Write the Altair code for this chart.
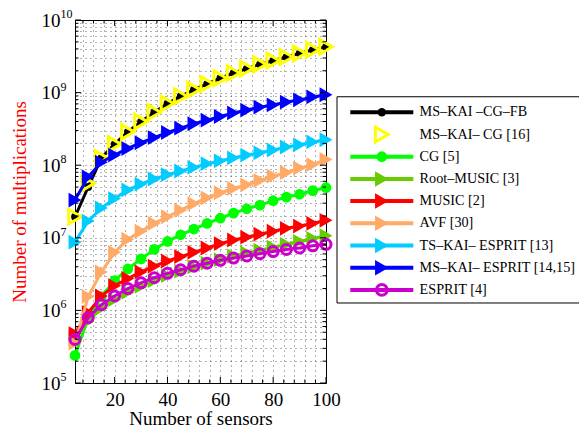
import altair as alt
import pandas as pd

# ---------------- data ----------------
sensors = [5, 10, 15, 20, 25, 30, 35, 40, 45, 50, 55, 60, 65, 70, 75, 80, 85, 90, 95, 100]

ms_kai_cg_fb = [1.95e7, 5.01e7, 1.26e8, 1.95e8, 2.88e8, 3.98e8, 5.37e8, 7.08e8, 8.91e8, 1.10e9,
                1.32e9, 1.58e9, 1.86e9, 2.14e9, 2.45e9, 2.75e9, 3.09e9, 3.47e9, 3.89e9, 4.27e9]
ms_kai_cg = [1.95e7, 5.62e7, 1.26e8, 1.95e8, 2.88e8, 3.98e8, 5.37e8, 7.08e8, 8.91e8, 1.10e9,
             1.32e9, 1.58e9, 1.86e9, 2.14e9, 2.45e9, 2.75e9, 3.09e9, 3.47e9, 3.89e9, 4.27e9]
cg = [2.40e5, 7.94e5, 1.55e6, 2.57e6, 3.72e6, 5.13e6, 6.92e6, 8.91e6, 1.10e7, 1.32e7,
      1.58e7, 1.86e7, 2.19e7, 2.51e7, 2.82e7, 3.24e7, 3.63e7, 3.98e7, 4.47e7, 4.90e7]
root_music = [3.98e5, 7.08e5, 1.07e6, 1.41e6, 1.78e6, 2.14e6, 2.57e6, 3.02e6, 3.47e6, 3.98e6,
              4.47e6, 5.01e6, 5.62e6, 6.17e6, 6.76e6, 7.41e6, 8.13e6, 8.91e6, 9.77e6, 1.07e7]
music = [4.79e5, 9.33e5, 1.58e6, 2.19e6, 2.75e6, 3.39e6, 4.07e6, 4.79e6, 5.50e6, 6.31e6,
         7.24e6, 8.32e6, 9.33e6, 1.02e7, 1.12e7, 1.23e7, 1.35e7, 1.45e7, 1.58e7, 1.74e7]
avf = [3.55e5, 1.55e6, 3.39e6, 6.31e6, 9.55e6, 1.23e7, 1.58e7, 1.95e7, 2.40e7, 2.95e7,
       3.55e7, 4.17e7, 4.79e7, 5.37e7, 6.17e7, 7.08e7, 7.94e7, 9.12e7, 1.02e8, 1.20e8]
ts_kai_esprit = [8.71e6, 1.70e7, 2.57e7, 3.47e7, 4.57e7, 5.50e7, 6.46e7, 7.41e7, 8.32e7, 9.33e7,
                 1.05e8, 1.15e8, 1.26e8, 1.38e8, 1.48e8, 1.62e8, 1.78e8, 1.91e8, 2.09e8, 2.24e8]
ms_kai_esprit = [3.31e7, 6.92e7, 1.10e8, 1.38e8, 1.70e8, 2.04e8, 2.40e8, 2.82e8, 3.24e8, 3.72e8,
                 4.17e8, 4.68e8, 5.25e8, 5.75e8, 6.31e8, 6.76e8, 7.41e8, 7.94e8, 8.71e8, 9.33e8]
esprit = [3.98e5, 7.94e5, 1.20e6, 1.58e6, 2.00e6, 2.40e6, 2.82e6, 3.24e6, 3.63e6, 4.07e6,
          4.47e6, 4.90e6, 5.25e6, 5.62e6, 6.03e6, 6.46e6, 6.92e6, 7.24e6, 7.76e6, 8.13e6]

labels = ["MS\u2013KAI \u2013CG\u2013FB", "MS\u2013KAI\u2013 CG [16]", "CG [5]",
          "Root\u2013MUSIC [3]", "MUSIC [2]", "AVF [30]", "TS\u2013KAI\u2013 ESPRIT [13]",
          "MS\u2013KAI\u2013 ESPRIT [14,15]", "ESPRIT [4]"]
series_values = [ms_kai_cg_fb, ms_kai_cg, cg, root_music, music, avf,
                 ts_kai_esprit, ms_kai_esprit, esprit]

x_ticks = [8, 12, 16, 20, 24, 28, 32, 36, 40, 44, 48, 52, 56, 60, 64, 68, 72, 76, 80, 84, 88, 92, 96, 100]
x_major = [20, 40, 60, 80, 100]
decades = [1e5, 1e6, 1e7, 1e8, 1e9, 1e10]
decade_exp = ["5", "6", "7", "8", "9", "10"]
y_ticks = [k * 10 ** e for e in range(5, 10) for k in range(1, 10)] + [10 ** 10]

# ---------------- styles ----------------
colors = ["#000000", "#FFFF00", "#00FF00", "#66CC00", "#FF0000", "#FFAA66", "#00CCFF", "#0000FF", "#CC00CC"]
shapes = ["circle", "triangle-right", "circle", "triangle-right", "triangle-right",
          "triangle-right", "triangle-right", "triangle-right", "circle"]
filled = [True, False, True, True, True, True, True, True, False]
has_line = [True, False, True, True, True, True, True, True, True]
msize = [60, 210, 115, 220, 220, 220, 220, 220, 100]

FONT = "Liberation Serif"
W, H = 251, 363

rows = []
for name, vals in zip(labels, series_values):
    for m, v in zip(sensors, vals):
        rows.append({"series": name, "M": m, "val": v})
df = pd.DataFrame(rows)

xs = alt.Scale(domain=[5, 100], nice=False, zero=False)
ys = alt.Scale(type="log", domain=[1e5, 1e10], nice=False)

xaxis = alt.Axis(values=x_ticks, labelExpr="datum.value % 20 == 0 ? datum.value : ''",
                 grid=True, gridDash=[1, 4], gridColor="#000000", gridOpacity=0.6,
                 ticks=False, tickSize=0, domain=False, labelPadding=7, labelOverlap=False,
                 labelFont=FONT, labelFontSize=19, labelColor="#000000", labelFlush=False,
                 title="Number of sensors", titleFont=FONT, titleFontSize=19,
                 titleFontWeight="normal", titleColor="#000000", titlePadding=0)
yaxis = alt.Axis(values=y_ticks,
                 labelExpr="indexof([100000,1000000,10000000,100000000,1000000000,10000000000], datum.value) >= 0 ? '10' : ''",
                 grid=True, gridDash=[1, 4], gridColor="#000000", gridOpacity=0.6,
                 ticks=False, tickSize=0, domain=False, labelPadding=15, labelOverlap=False,
                 labelFont=FONT, labelFontSize=19, labelColor="#000000", labelFlush=False,
                 title="Number of multiplications", titleFont=FONT, titleFontSize=19,
                 titleFontWeight="normal", titleColor="#FF0000", titlePadding=12)

X = alt.X("M:Q", scale=xs, axis=xaxis)
Y = alt.Y("val:Q", scale=ys, axis=yaxis)

main_layers = []
for i, name in enumerate(labels):
    base = alt.Chart(df).transform_filter(alt.datum.series == name).encode(x=X, y=Y)
    if has_line[i]:
        main_layers.append(base.mark_line(color=colors[i], strokeWidth=3))
    if filled[i]:
        pt = base.mark_point(shape=shapes[i], filled=True, color=colors[i], size=msize[i],
                             opacity=1, strokeWidth=1)
    else:
        pt = base.mark_point(shape=shapes[i], filled=False, color=colors[i], size=msize[i],
                             opacity=1, strokeWidth=3)
    main_layers.append(pt)

# inward ticks (box style)
xt = pd.DataFrame({"t": x_ticks, "major": [t in x_major for t in x_ticks]})
yt = pd.DataFrame({"v": y_ticks, "major": [v in decades for v in y_ticks]})
XT = alt.X("t:Q", scale=xs, axis=xaxis)
YT = alt.Y("v:Q", scale=ys, axis=yaxis)
for flag, ln in [(True, 6), (False, 3.5)]:
    bx = alt.Chart(xt).transform_filter(alt.datum.major == flag)
    main_layers.append(bx.mark_rule(color="black", strokeWidth=1).encode(
        x=XT, y=alt.value(H), y2=alt.value(H - ln)))
    main_layers.append(bx.mark_rule(color="black", strokeWidth=1).encode(
        x=XT, y=alt.value(0), y2=alt.value(ln)))
    by = alt.Chart(yt).transform_filter(alt.datum.major == flag)
    main_layers.append(by.mark_rule(color="black", strokeWidth=1).encode(
        y=YT, x=alt.value(0), x2=alt.value(ln)))
    main_layers.append(by.mark_rule(color="black", strokeWidth=1).encode(
        y=YT, x=alt.value(W), x2=alt.value(W - ln)))

# exponents of the y tick labels
exp_df = pd.DataFrame({"v": decades, "e": decade_exp})
main_layers.append(alt.Chart(exp_df).mark_text(align="left", baseline="middle", dy=-6,
                                               font=FONT, fontSize=12, color="black").encode(
    y=YT, x=alt.value(-14.5), text="e:N"))

main = alt.layer(*main_layers)

# ---------------- legend ----------------
lxs = alt.Scale(domain=[0, 1], range=[275.3, 338.3], nice=False, zero=False)
lys = alt.Scale(domain=[0, 8], range=[92.3, 269.9], nice=False, zero=False)
leg = pd.DataFrame({
    "row": list(range(9)), "label": labels, "shape": shapes, "filled": filled,
    "line": has_line, "sz": [70, 220, 115, 240, 240, 240, 240, 240, 115],
    "x0": 0.0, "x1": 1.0, "xm": 0.5, "tx": 1.10,
})
box = pd.DataFrame({"a": [-0.211], "b": [5.0], "c": [-0.70], "d": [8.59]})
cscale = alt.Scale(domain=labels, range=colors)
sscale = alt.Scale(domain=labels, range=shapes)

leg_box = alt.Chart(box).mark_rect(fill="white", stroke="black", strokeWidth=1).encode(
    x=alt.X("a:Q", scale=lxs, axis=None), x2="b:Q",
    y=alt.Y("c:Q", scale=lys, axis=None), y2="d:Q")
leg_lines = alt.Chart(leg).transform_filter(alt.datum.line == True).mark_rule(strokeWidth=4).encode(
    x=alt.X("x0:Q", scale=lxs, axis=None), x2="x1:Q",
    y=alt.Y("row:Q", scale=lys, axis=None),
    color=alt.Color("label:N", scale=cscale, legend=None))
leg_fill = alt.Chart(leg).transform_filter(alt.datum.filled == True).mark_point(
    filled=True, opacity=1, strokeWidth=1).encode(
    x=alt.X("xm:Q", scale=lxs, axis=None), y=alt.Y("row:Q", scale=lys, axis=None),
    color=alt.Color("label:N", scale=cscale, legend=None),
    shape=alt.Shape("label:N", scale=sscale, legend=None),
    size=alt.Size("sz:Q", scale=None))
leg_open = alt.Chart(leg).transform_filter(alt.datum.filled == False).mark_point(
    filled=False, opacity=1, strokeWidth=3).encode(
    x=alt.X("xm:Q", scale=lxs, axis=None), y=alt.Y("row:Q", scale=lys, axis=None),
    color=alt.Color("label:N", scale=cscale, legend=None),
    shape=alt.Shape("label:N", scale=sscale, legend=None),
    size=alt.Size("sz:Q", scale=None))
leg_text = alt.Chart(leg).mark_text(align="left", baseline="middle", font=FONT,
                                    fontSize=14.2, color="black").encode(
    x=alt.X("tx:Q", scale=lxs, axis=None), y=alt.Y("row:Q", scale=lys, axis=None),
    text="label:N")

legend = alt.layer(leg_box, leg_lines, leg_fill, leg_open, leg_text)

chart = alt.layer(main, legend).resolve_scale(
    x="independent", y="independent", color="independent", shape="independent"
).properties(
    width=W, height=H,
    padding={"left": 67, "top": 12, "right": 253, "bottom": 45},
    autosize=alt.AutoSizeParams(type="none"),
).configure_view(stroke="black", strokeWidth=1)

chart.save("out.html", embed_options={"renderer": "svg", "actions": False})
